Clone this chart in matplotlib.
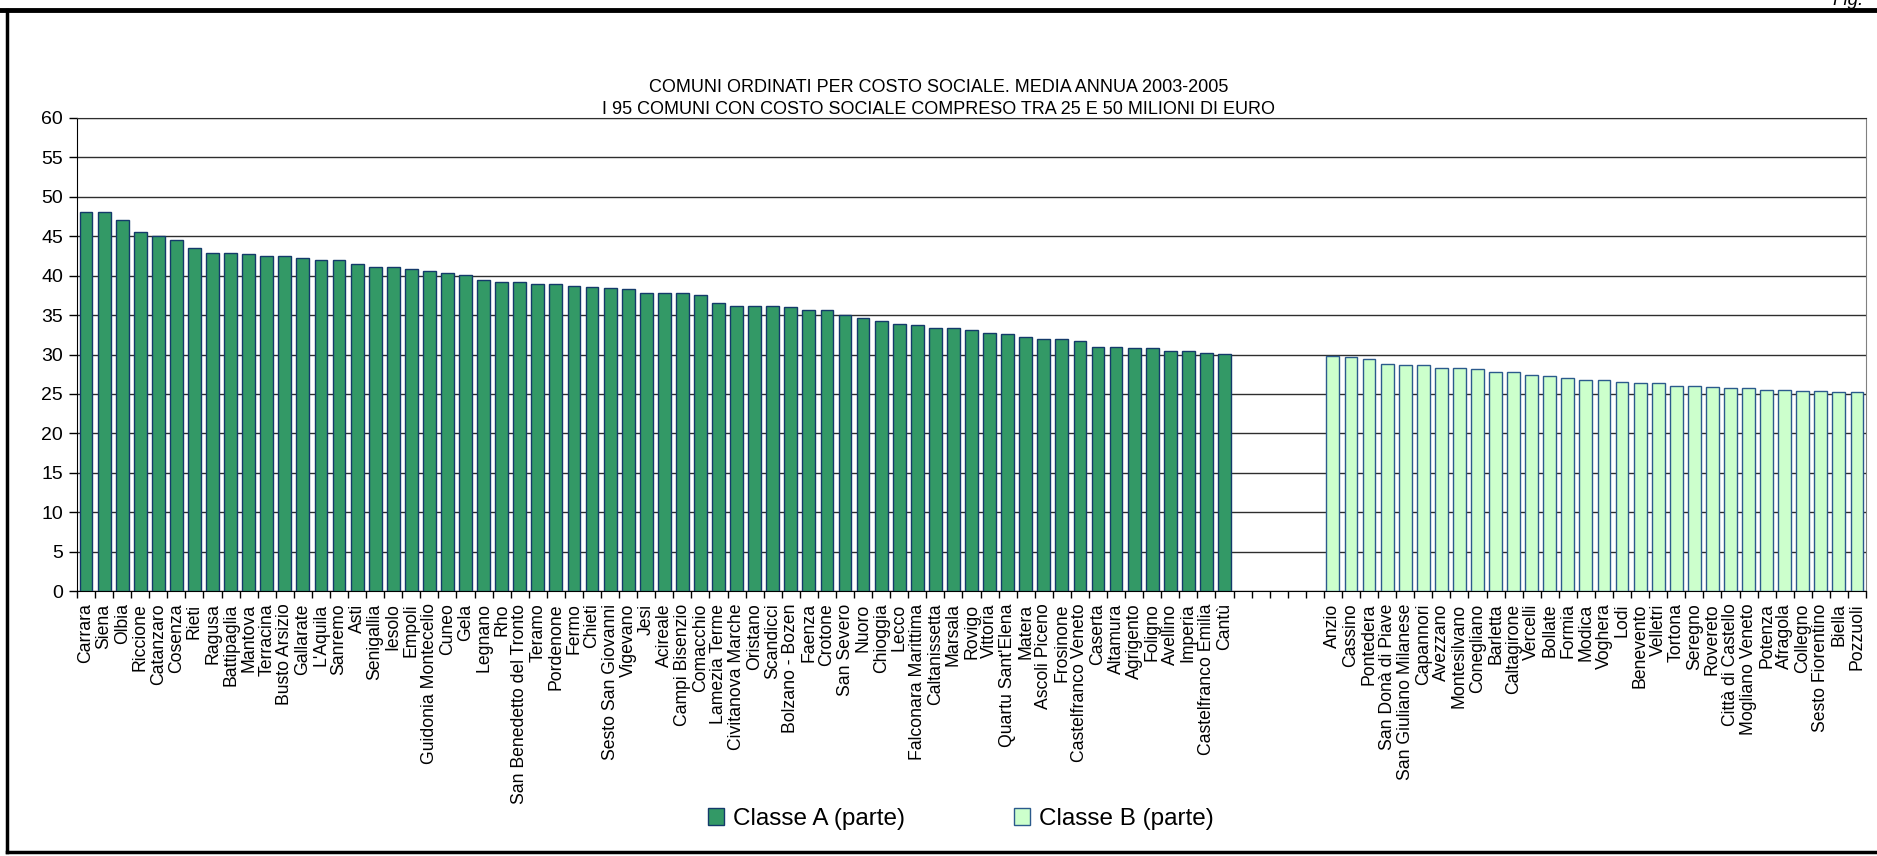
import numpy as np
import matplotlib
matplotlib.use('Agg')
from matplotlib import pyplot as plt
from matplotlib.lines import Line2D

plt.rcParams['font.family'] = ['Liberation Sans', 'DejaVu Sans']

titolo = ['COMUNI ORDINATI PER COSTO SOCIALE. MEDIA ANNUA 2003-2005',
          'I 95 COMUNI CON COSTO SOCIALE COMPRESO TRA 25 E 50 MILIONI DI EURO']

comuni_a = ['Carrara', 'Siena', 'Olbia', 'Riccione', 'Catanzaro', 'Cosenza', 'Rieti',
            'Ragusa', 'Battipaglia', 'Mantova', 'Terracina', 'Busto Arsizio', 'Gallarate',
            "L'Aquila", 'Sanremo', 'Asti', 'Senigallia', 'Iesolo', 'Empoli',
            'Guidonia Montecelio', 'Cuneo', 'Gela', 'Legnano', 'Rho',
            'San Benedetto del Tronto', 'Teramo', 'Pordenone', 'Fermo', 'Chieti',
            'Sesto San Giovanni', 'Vigevano', 'Jesi', 'Acireale', 'Campi Bisenzio',
            'Comacchio', 'Lamezia Terme', 'Civitanova Marche', 'Oristano', 'Scandicci',
            'Bolzano - Bozen', 'Faenza', 'Crotone', 'San Severo', 'Nuoro', 'Chioggia',
            'Lecco', 'Falconara Marittima', 'Caltanissetta', 'Marsala', 'Rovigo',
            'Vittoria', "Quartu Sant'Elena", 'Matera', 'Ascoli Piceno', 'Frosinone',
            'Castelfranco Veneto', 'Caserta', 'Altamura', 'Agrigento', 'Foligno',
            'Avellino', 'Imperia', 'Castelfranco Emilia', 'Cantù']
costo_a = [48.1, 48.1, 47.0, 45.6, 45.0, 44.5, 43.5, 42.9, 42.9, 42.7, 42.5, 42.5, 42.3,
           42.0, 42.0, 41.5, 41.1, 41.1, 40.8, 40.6, 40.4, 40.1, 39.4, 39.2, 39.2, 38.9,
           38.9, 38.7, 38.5, 38.45, 38.3, 37.8, 37.8, 37.8, 37.6, 36.5, 36.2, 36.2, 36.2,
           36.0, 35.7, 35.7, 35.0, 34.6, 34.3, 33.9, 33.7, 33.4, 33.4, 33.05, 32.7, 32.55,
           32.2, 32.0, 32.0, 31.65, 31.0, 31.0, 30.8, 30.8, 30.5, 30.5, 30.25, 30.1]

comuni_b = ['Anzio', 'Cassino', 'Pontedera', 'San Donà di Piave', 'San Giuliano Milanese',
            'Capannori', 'Avezzano', 'Montesilvano', 'Conegliano', 'Barletta', 'Caltagirone',
            'Vercelli', 'Bollate', 'Formia', 'Modica', 'Voghera', 'Lodi', 'Benevento',
            'Velletri', 'Tortona', 'Seregno', 'Rovereto', 'Città di Castello',
            'Mogliano Veneto', 'Potenza', 'Afragola', 'Collegno', 'Sesto Fiorentino',
            'Biella', 'Pozzuoli']
costo_b = [29.87, 29.7, 29.45, 28.82, 28.69, 28.69, 28.31, 28.31, 28.14, 27.76, 27.76,
           27.43, 27.22, 27.05, 26.75, 26.75, 26.54, 26.41, 26.41, 26.03, 26.03, 25.86,
           25.7, 25.7, 25.49, 25.49, 25.36, 25.36, 25.19, 25.19]

vuoti = 5  # empty category slots between the two groups

W, H = 1877, 856
fig = plt.figure(figsize=(W / 100, H / 100), dpi=100)
ax = fig.add_axes([77 / W, 1 - 591 / H, (1866 - 77) / W, (591 - 118) / H])

xa = np.arange(len(comuni_a))
xb = np.arange(len(comuni_b)) + len(comuni_a) + vuoti
n = len(comuni_a) + vuoti + len(comuni_b)

ax.bar(xa, costo_a, width=0.71, color='#339966', edgecolor='#143A6A', linewidth=1.0,
       label='Classe A (parte)', zorder=3)
ax.bar(xb, costo_b, width=0.71, color='#CCFFCC', edgecolor='#2B5A8C', linewidth=1.0,
       label='Classe B (parte)', zorder=3)

ax.set_xlim(-0.5, n - 0.5)
ax.set_ylim(0, 60)
ax.set_yticks(range(0, 61, 5))
ax.yaxis.grid(True, color='#2e2e2e', linewidth=1.0, zorder=1)
ax.tick_params(axis='y', labelsize=14, length=6, width=1, pad=4)

ax.set_xticks(list(xa) + list(xb))
ax.set_xticklabels(comuni_a + comuni_b, rotation=90, fontsize=12.7)
ax.tick_params(axis='x', which='major', length=0, pad=9)
ax.set_xticks(np.arange(-0.5, n), minor=True)
ax.tick_params(axis='x', which='minor', length=5, width=1)

ax.spines['left'].set_color('black')
ax.spines['bottom'].set_color('black')
ax.spines['top'].set_color('#2e2e2e')
ax.spines['right'].set_color('#808080')

fig.text(0.5, 1 - 87 / H, titolo[0], ha='center', va='center', fontsize=13)
fig.text(0.5, 1 - 110 / H, titolo[1], ha='center', va='center', fontsize=13)

fig.legend(loc='center', bbox_to_anchor=(0.512, 1 - 819 / H), ncol=2, frameon=False,
           fontsize=17.5, handlelength=0.66, handleheight=0.66, handletextpad=0.37,
           columnspacing=4.5)

# outer frame of the page
fig.add_artist(Line2D([0, 1], [1 - 10 / H, 1 - 10 / H], color='black', lw=3.5,
                      transform=fig.transFigure))
fig.add_artist(Line2D([7 / W, 7 / W], [1 - 10 / H, 4 / H], color='black', lw=2.5,
                      transform=fig.transFigure))
fig.add_artist(Line2D([7 / W, 1], [4 / H, 4 / H], color='black', lw=2.5,
                      transform=fig.transFigure))
fig.text(1832 / W, 1 - 5 / H, 'Fig.', ha='left', va='baseline', fontsize=13.5,
         style='italic')

fig.savefig('out.png', dpi=100)
